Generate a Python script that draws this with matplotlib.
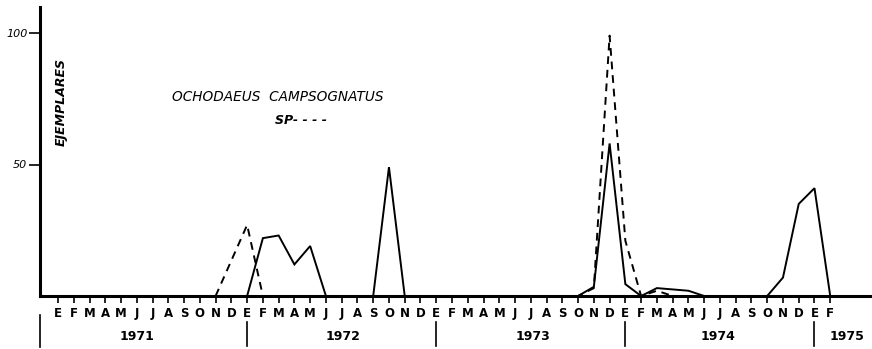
import numpy as np
import matplotlib.pyplot as plt
from matplotlib import transforms

# meses (E = enero) 1971 .. febrero 1975
meses = list("EFMAMJJASOND") * 4 + ["E", "F"]
anos = ["1971", "1972", "1973", "1974", "1975"]
x = np.arange(len(meses))

# Ochodaeus (linea continua), indice de mes -> ejemplares
ocho_i = [12, 13, 14, 15, 16, 17, 20, 21, 22,
          33, 34, 35, 36, 37, 38, 39, 40, 41,
          45, 46, 47, 48, 49]
ocho_v = [0, 22, 23, 12, 19, 0, 0, 49, 0,
          0, 3.5, 58, 4.5, 0, 3, 2.5, 2, 0,
          0, 7, 35, 41, 0]

# Campsognatus (linea discontinua)
camp_i = [10, 12, 13, 33, 34, 35, 36, 37, 38, 39]
camp_v = [0, 27, 0, 0, 3, 99, 21, 0, 2, 0]

W, H = 872, 349
fig = plt.figure(figsize=(W / 100, H / 100), dpi=100)
x0, x1 = 40, 870      # pixeles del eje x
y0, y1 = 296, 7       # pixeles: valor 0 y tope del eje y
ax = fig.add_axes([x0 / W, 1 - y0 / H, (x1 - x0) / W, (y0 - y1) / H])

px = 15.76            # pixeles por mes
xmin = (x0 - 58) / px
xmax = (x1 - 58) / px
ax.set_xlim(xmin, xmax)
ax.set_ylim(0, (y0 - y1) / 2.63)

ax.plot(ocho_i, ocho_v, color="black", lw=1.4, solid_joinstyle="miter")
ax.plot(camp_i, camp_v, color="black", lw=1.4, linestyle=(0, (4, 3)))

for s in ["top", "right"]:
    ax.spines[s].set_visible(False)
for s in ["left", "bottom"]:
    ax.spines[s].set_linewidth(2.2)

ax.set_xticks(x)
ax.set_xticklabels(meses, fontsize=8.5, fontweight="bold")
ax.tick_params(axis="x", direction="out", length=5, width=1.2, pad=3)
ax.set_yticks([50, 100])
ax.set_yticklabels(["50", "100"], fontsize=8, style="italic")
ax.tick_params(axis="y", direction="out", length=8, width=1.2, pad=1)

# separadores de años y etiquetas
trans = transforms.blended_transform_factory(ax.transData, ax.transAxes)
hpx = y0 - y1
ax.plot([xmin + 0.02, xmin + 0.02], [-(315 - y0) / hpx, -(347 - y0) / hpx],
        color="black", lw=1.2, transform=trans, clip_on=False)
for k in [12, 24, 36, 48]:
    ax.plot([k, k], [-(322 - y0) / hpx, -(346 - y0) / hpx],
            color="black", lw=1.2, transform=trans, clip_on=False)
centros = [(137 - 58) / px, (343 - 58) / px, (533 - 58) / px,
           (718 - 58) / px, (847 - 58) / px]
for c, a in zip(centros, anos):
    ax.text(c, -(336 - y0) / hpx, a, transform=trans, ha="center",
            va="center", fontsize=9, fontweight="semibold")

ax.text(61 / W, 1 - 102 / H, "EJEMPLARES", transform=fig.transFigure,
        rotation=90, ha="center", va="center", fontsize=9,
        style="italic", fontweight="bold")
ax.text(172 / W, 1 - 97 / H, "OCHODAEUS  CAMPSOGNATUS",
        transform=fig.transFigure, ha="left", va="center", fontsize=9.8,
        style="italic")
ax.text(275 / W, 1 - 120 / H, "SP- - - -", transform=fig.transFigure,
        ha="left", va="center", fontsize=9, style="italic",
        fontweight="bold")

fig.savefig("out.png", dpi=100)
